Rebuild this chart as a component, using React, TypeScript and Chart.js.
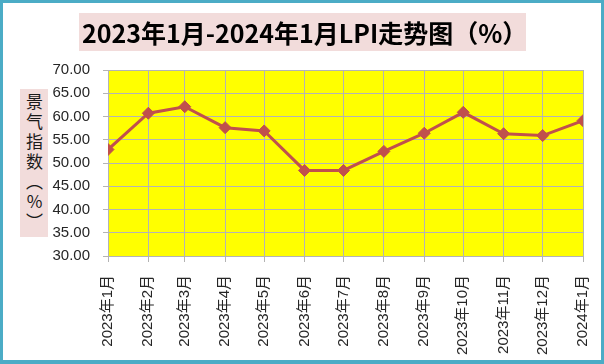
import React, { useEffect, useRef } from "react";
import { Chart, registerables } from "chart.js";

Chart.register(...registerables);

const categories = [
  "2023年1月", "2023年2月", "2023年3月", "2023年4月", "2023年5月", "2023年6月",
  "2023年7月", "2023年8月", "2023年9月", "2023年10月", "2023年11月", "2023年12月", "2024年1月",
];
const dates = [
  "2023-01-01", "2023-02-01", "2023-03-01", "2023-04-01", "2023-05-01", "2023-06-01",
  "2023-07-01", "2023-08-01", "2023-09-01", "2023-10-01", "2023-11-01", "2023-12-01", "2024-01-01",
];
const values = [52.9, 60.7, 62.1, 57.6, 56.9, 48.4, 48.4, 52.5, 56.4, 60.9, 56.3, 55.9, 59.1];
const yMin = 30;
const yMax = 70;
const yStep = 5;

const titleText = "2023年1月-2024年1月LPI走势图（%）";
const yTitleText = "景气指数（%）";

const DAY = 86400000;
const dayOffset = (d: string) => Math.round((Date.parse(d) - Date.parse(dates[0])) / DAY);
const xs = dates.map(dayOffset);

const bgPlugin = {
  id: "plotBg",
  beforeDraw(chart: any) {
    const { ctx, chartArea } = chart;
    if (!chartArea) return;
    ctx.save();
    ctx.fillStyle = "#FFFF00";
    ctx.fillRect(chartArea.left, chartArea.top, chartArea.right - chartArea.left, chartArea.bottom - chartArea.top);
    ctx.restore();
  },
};

export default function App() {
  const ref = useRef<HTMLCanvasElement | null>(null);

  useEffect(() => {
    document.body.style.margin = "0";
    const gridColor = "#B4B4B4";
    const labelColor = "#262626";
    const chart = new Chart(ref.current as HTMLCanvasElement, {
      type: "line",
      data: {
        datasets: [
          {
            data: xs.map((x, i) => ({ x, y: values[i] })),
            borderColor: "#C0504D",
            backgroundColor: "#C0504D",
            borderWidth: 3,
            pointStyle: "rectRot",
            pointRadius: 6,
            pointBackgroundColor: "#C0504D",
            pointBorderColor: "#C0504D",
            pointBorderWidth: 1,
            tension: 0,
          },
        ],
      },
      options: {
        responsive: false,
        animation: false,
        layout: { padding: { left: 0, right: 21, top: 70, bottom: 0 } },
        plugins: { legend: { display: false }, tooltip: { enabled: false } },
        scales: {
          x: {
            type: "linear",
            min: xs[0],
            max: xs[xs.length - 1],
            afterBuildTicks: (s: any) => {
              s.ticks = xs.map((v) => ({ value: v }));
            },
            afterFit: (s: any) => {
              s.height = 108;
              s.paddingLeft = 0;
              s.paddingRight = 0;
            },
            ticks: {
              autoSkip: false,
              minRotation: 90,
              maxRotation: 90,
              padding: 13,
              color: labelColor,
              font: { family: "'Liberation Sans', 'Noto Sans CJK SC', sans-serif", size: 15 },
              callback: (_v: any, i: number) => categories[i],
            },
            grid: { color: gridColor, tickLength: 6, lineWidth: 1 },
            border: { color: gridColor },
          },
          y: {
            min: yMin,
            max: yMax,
            afterFit: (s: any) => {
              s.width = 108;
            },
            ticks: {
              stepSize: yStep,
              padding: 13,
              color: labelColor,
              font: { family: "'Liberation Sans', sans-serif", size: 15 },
              callback: (v: any) => Number(v).toFixed(2),
            },
            grid: { color: gridColor, tickLength: 5, lineWidth: 1 },
            border: { color: gridColor },
          },
        },
      } as any,
      plugins: [bgPlugin],
    });
    return () => chart.destroy();
  }, []);

  return (
    <div style={{ position: "fixed", left: 0, top: 0, width: 604, height: 364, background: "#fff", overflow: "hidden" }}>
      <canvas ref={ref} width={604} height={364} style={{ position: "absolute", left: 0, top: 0, width: 604, height: 364 }} />
      <div
        style={{
          position: "absolute",
          left: 79,
          top: 13,
          width: 447,
          height: 38,
          background: "#F2DCDB",
          boxSizing: "border-box",
          paddingLeft: 3,
          fontFamily: "'Noto Sans CJK SC', sans-serif",
          fontWeight: 700,
          fontSize: 25,
          lineHeight: "38px",
          color: "#000",
          whiteSpace: "nowrap",
        }}
      >
        {titleText}
      </div>
      <div
        style={{
          position: "absolute",
          left: 20,
          top: 89,
          width: 28,
          height: 148,
          background: "#F2DCDB",
          display: "flex",
          alignItems: "center",
          justifyContent: "center",
        }}
      >
        <span
          style={{
            writingMode: "vertical-rl",
            textOrientation: "upright",
            fontFamily: "'Noto Sans CJK SC', sans-serif",
            fontSize: 17,
            letterSpacing: 3,
            lineHeight: "28px",
            color: "#1a1a1a",
          }}
        >
          {yTitleText}
        </span>
      </div>
      <div
        style={{
          position: "absolute",
          left: 0,
          top: 0,
          width: 604,
          height: 364,
          boxSizing: "border-box",
          borderStyle: "solid",
          borderColor: "#4BACC6",
          borderWidth: "3px 3px 4px 3px",
          pointerEvents: "none",
        }}
      />
    </div>
  );
}
